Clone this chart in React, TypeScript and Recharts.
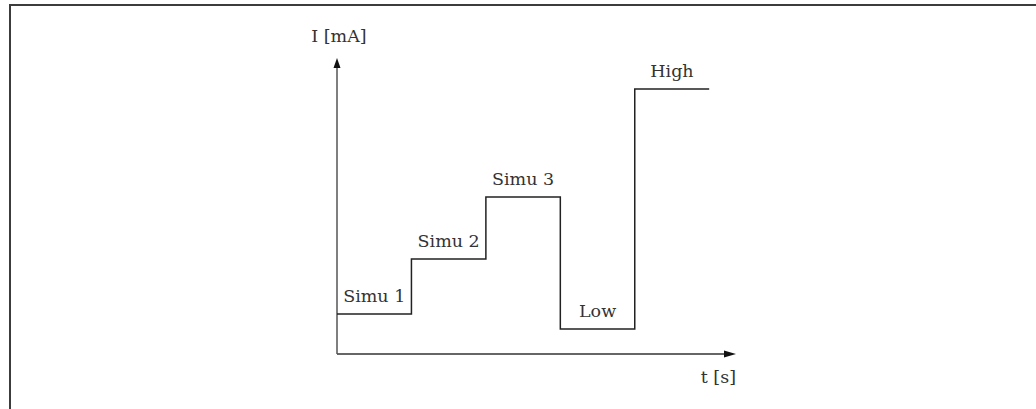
import { ComposedChart, Line, Scatter, XAxis, YAxis, ReferenceDot, ReferenceLine, LabelList } from "recharts";

// step times [s] and current levels (arbitrary schematic units)
const times = [0, 1, 2, 3, 4, 5];
const current = [4.0, 9.5, 15.7, 2.5, 26.5, 26.5];
const stepNames = ["Simu 1", "Simu 2", "Simu 3", "Low", "High"];

const X_MAX = 5.36;
const Y_MAX = 29.6;

const lineData = times.map((t, i) => ({ t, v: current[i] }));
const labelData = stepNames.map((name, i) => ({ t: times[i] + 0.5, v: current[i], name }));

const FONT = "'DejaVu Serif', serif";
const FS = 17.5;
const INK = "#333";

function UpArrow(props: any) {
  const { cx, cy } = props;
  return (
    <g>
      <polygon points={`${cx},${cy} ${cx - 3.5},${cy + 10} ${cx + 3.5},${cy + 10}`} fill="#111" />
      <text x={cx + 2} y={cy - 16} textAnchor="middle" fontFamily={FONT} fontSize={FS} fill={INK}>
        I [mA]
      </text>
    </g>
  );
}

function RightArrow(props: any) {
  const { cx, cy } = props;
  return (
    <g>
      <polygon points={`${cx},${cy} ${cx - 12},${cy - 3.5} ${cx - 12},${cy + 3.5}`} fill="#111" />
      <text x={cx} y={cy + 29} textAnchor="end" fontFamily={FONT} fontSize={FS} fill={INK}>
        t [s]
      </text>
    </g>
  );
}

function StepLabel(props: any) {
  const { x, y, width, value } = props;
  return (
    <text x={x + (width || 0) / 2} y={y - 7} textAnchor="middle" fontFamily={FONT} fontSize={FS} fill={INK}>
      {value}
    </text>
  );
}

export default function App() {
  return (
    <div style={{ position: "fixed", left: 0, top: 0, width: 1036, height: 409, overflow: "hidden", background: "#fff" }}>
      <div
        style={{
          position: "absolute",
          left: 9,
          top: 4,
          right: -10,
          bottom: -10,
          borderLeft: "2px solid #3c3c3c",
          borderTop: "2px solid #3c3c3c",
        }}
      />
      <ComposedChart
        width={1036}
        height={409}
        margin={{ top: 58, right: 300, bottom: 55, left: 337 }}
        style={{ position: "absolute", left: 0, top: 0 }}
      >
        <XAxis type="number" dataKey="t" domain={[0, X_MAX]} hide allowDataOverflow />
        <YAxis type="number" domain={[0, Y_MAX]} hide allowDataOverflow />
        <ReferenceLine
          segment={[{ x: 0, y: 0 }, { x: X_MAX - 0.1, y: 0 }]}
          stroke="#333"
          strokeWidth={1.5}
          ifOverflow="visible"
        />
        <ReferenceLine
          segment={[{ x: 0, y: 0 }, { x: 0, y: Y_MAX - 0.5 }]}
          stroke="#555"
          strokeWidth={1.5}
          ifOverflow="visible"
        />
        <Line
          data={lineData}
          dataKey="v"
          type="stepAfter"
          stroke="#222"
          strokeWidth={1.5}
          dot={false}
          isAnimationActive={false}
        />
        <Scatter data={labelData} dataKey="v" shape={() => <g />} isAnimationActive={false}>
          <LabelList dataKey="name" content={StepLabel} />
        </Scatter>
        <ReferenceDot x={0} y={Y_MAX} r={0} shape={UpArrow} ifOverflow="visible" />
        <ReferenceDot x={X_MAX} y={0} r={0} shape={RightArrow} ifOverflow="visible" />
      </ComposedChart>
    </div>
  );
}
